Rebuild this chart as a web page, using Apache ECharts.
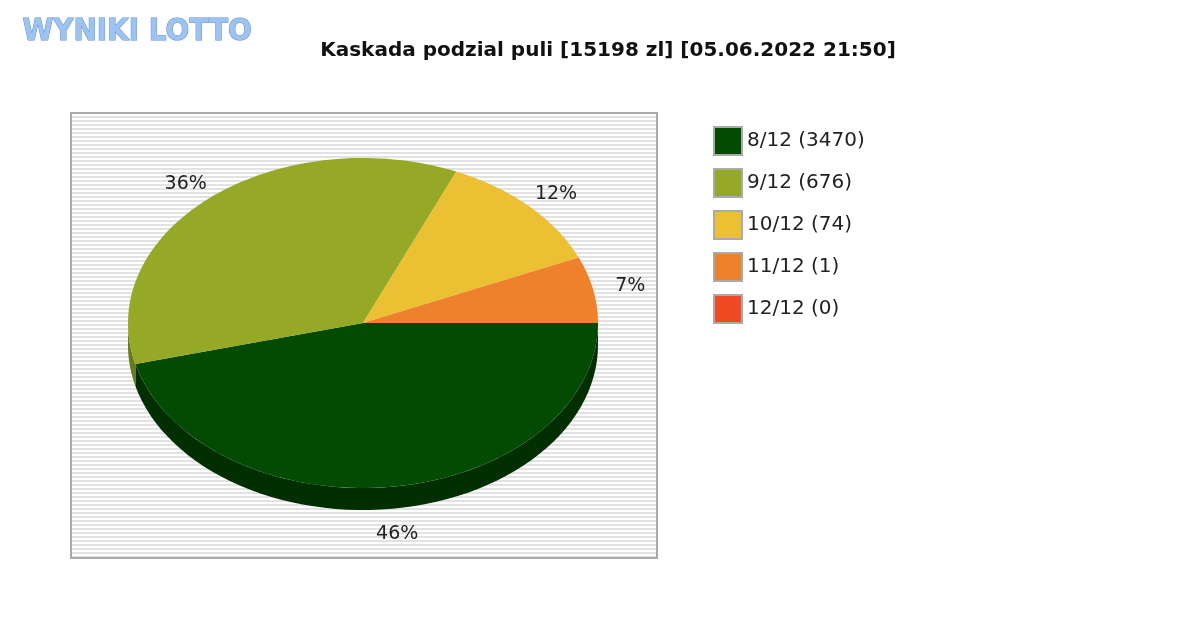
<!DOCTYPE html><html><head><meta charset="utf-8">
<script src="https://cdn.jsdelivr.net/npm/echarts@6/dist/echarts.min.js"></script>
<style>html,body{margin:0;background:#fff}#c{width:1200px;height:630px}</style></head><body><div id="c"></div>
<script>
const categories=['8/12 (3470)','9/12 (676)','10/12 (74)','11/12 (1)','12/12 (0)'];
const shares=[46,35.5,12,6.5,0];
const colors=['#034a03','#95a926','#ebc032','#ef812c','#f04a25'];
const sideColors=['#022f02','#6b7a18','#a8891f','#a85a1d','#a8341a'];
const title='Kaskada podzial puli [15198 zl] [05.06.2022 21:50]';

const pc=document.createElement('canvas');pc.width=4;pc.height=4;
const g=pc.getContext('2d');g.fillStyle='#ffffff';g.fillRect(0,0,4,4);g.fillStyle='#e2e2e2';g.fillRect(0,0,4,2);

const cx=363,cy=323,rx=235,ry=165,depth=22;
const total=shares.reduce((a,b)=>a+b,0);
const starts=[];let acc=0;shares.forEach(v=>{starts.push(acc/total*2*Math.PI);acc+=v;});
function pt(a,dy){return [cx+rx*Math.cos(a),cy+ry*Math.sin(a)+(dy||0)];}
function renderItem(params,api){
  const i=params.dataIndex,v=api.value(1);
  if(!v)return {type:'group',children:[]};
  const a0=starts[i],a1=a0+v/total*2*Math.PI;
  const ch=[];
  const s0=Math.max(a0,0),s1=Math.min(a1,Math.PI);
  if(s1>s0){const p=[];const n=60;
    for(let k=0;k<=n;k++)p.push(pt(s0+(s1-s0)*k/n,0));
    for(let k=n;k>=0;k--)p.push(pt(s0+(s1-s0)*k/n,depth));
    ch.push({type:'polygon',shape:{points:p},style:{fill:sideColors[i]},z2:1});}
  const p=[[cx,cy]];const n=80;
  for(let k=0;k<=n;k++)p.push(pt(a0+(a1-a0)*k/n,0));
  ch.push({type:'polygon',shape:{points:p},style:{fill:colors[i]},z2:2});
  const m=(a0+a1)/2,s=Math.sin(m);
  ch.push({type:'text',x:cx+(rx+38)*Math.cos(m),y:cy+(ry+18)*s+(s>0?depth+8:0),
    style:{text:Math.round(v)+'%',fill:'#222',font:'19px "DejaVu Sans"',align:'center',verticalAlign:'middle'},z2:3});
  return {type:'group',children:ch};
}
const chart=echarts.init(document.getElementById('c'));
chart.setOption({
  animation:false,
  title:{text:title,left:603,top:36,textAlign:'center',textStyle:{fontFamily:'DejaVu Sans',fontWeight:'bold',fontSize:20,color:'#111'}},
  graphic:[
    {type:'text',left:22,top:16,style:{text:'WYNIKI LOTTO',font:'bold 31px "DejaVu Sans Condensed"',fill:'#9fc3f0',stroke:'#5a8fd8',lineWidth:1}},
    {type:'rect',shape:{x:71,y:113,width:586,height:445},style:{fill:{image:pc,repeat:'repeat'},stroke:'#aaa',lineWidth:2},z:-1}
  ],
  legend:{orient:'vertical',left:708,top:121,itemWidth:28,itemHeight:28,itemGap:12,
    textStyle:{fontFamily:'DejaVu Sans',fontSize:20,color:'#222'},data:categories.map((c,i)=>({name:c,itemStyle:{color:colors[i],borderColor:'#aaa',borderWidth:2}})),icon:'rect'},
  series:[
    ...categories.map((c,i)=>({type:'custom',name:c,coordinateSystem:'none',renderItem:(p,api)=>renderItem({dataIndex:i},api),data:[[i,shares[i]]],itemStyle:{color:colors[i]}}))
  ]
});
</script></body></html>
